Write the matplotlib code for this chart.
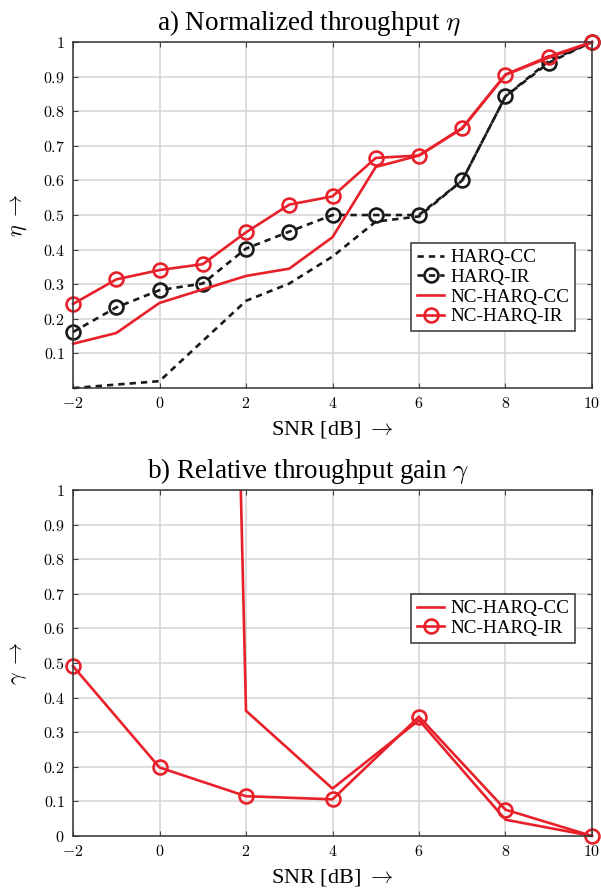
import numpy as np
import matplotlib.pyplot as plt

plt.rcParams['font.family'] = ['Liberation Serif', 'DejaVu Serif']
plt.rcParams['mathtext.fontset'] = 'cm'

# a) normalized throughput
snr = [-2, -1, 0, 1, 2, 3, 4, 5, 6, 7, 8, 9, 10]
harq_cc = [0.0, 0.01, 0.02, 0.136, 0.252, 0.302, 0.38, 0.481, 0.496, 0.60, 0.843, 0.945, 1.0]
harq_ir = [0.162, 0.233, 0.283, 0.302, 0.403, 0.452, 0.50, 0.50, 0.50, 0.60, 0.843, 0.94, 1.0]
nc_harq_cc = [0.128, 0.159, 0.246, 0.285, 0.324, 0.345, 0.436, 0.639, 0.672, 0.75, 0.905, 0.955, 1.0]
nc_harq_ir = [0.243, 0.314, 0.341, 0.358, 0.45, 0.530, 0.554, 0.665, 0.672, 0.752, 0.906, 0.958, 1.0]

# b) relative throughput gain
snr_b = [-2, 0, 2, 4, 6, 8, 10]
gain_cc = [np.nan, 11.0, 0.362, 0.137, 0.335, 0.047, 0.0]
gain_ir = [0.491, 0.198, 0.115, 0.106, 0.345, 0.076, 0.0]

xtick_vals = [-2, 0, 2, 4, 6, 8, 10]
xtick_lbls = ['$-2$', '$0$', '$2$', '$4$', '$6$', '$8$', '$10$']
ytick_vals_a = [0.1, 0.2, 0.3, 0.4, 0.5, 0.6, 0.7, 0.8, 0.9, 1.0]
ytick_lbls_a = ['$0.1$', '$0.2$', '$0.3$', '$0.4$', '$0.5$', '$0.6$', '$0.7$', '$0.8$', '$0.9$', '$1$']
ytick_vals_b = [0.0] + ytick_vals_a
ytick_lbls_b = ['$0$'] + ytick_lbls_a

red = '#e8202a'
blk = '#1a1a1a'

fig = plt.figure(figsize=(6.01, 8.88), dpi=100)
ax1 = fig.add_axes([0.1215, 0.563, 0.8635, 0.3897])
ax2 = fig.add_axes([0.1215, 0.0586, 0.8635, 0.3894])

lw = 1.9
mk = dict(marker='o', markersize=10, markerfacecolor='none', markeredgewidth=1.9)

ax1.plot(snr, harq_cc, '--', color=blk, lw=lw, dashes=(2.4, 1.9), label='HARQ-CC')
ax1.plot(snr, harq_ir, '--', color=blk, lw=lw, dashes=(2.4, 1.9), markeredgecolor=blk, label='HARQ-IR', **mk)
ax1.plot(snr, nc_harq_cc, '-', color=red, lw=lw, label='NC-HARQ-CC')
ax1.plot(snr, nc_harq_ir, '-', color=red, lw=lw, markeredgecolor=red, label='NC-HARQ-IR', **mk)

ax2.plot(snr_b, gain_cc, '-', color=red, lw=lw, label='NC-HARQ-CC')
ax2.plot(snr_b, gain_ir, '-', color=red, lw=lw, markeredgecolor=red, label='NC-HARQ-IR', **mk)

for ax in (ax1, ax2):
    ax.set_xlim(-2, 10)
    ax.set_ylim(0, 1)
    ax.set_xticks(xtick_vals)
    ax.set_xticklabels(xtick_lbls)
    ax.grid(True, color='#d4d4d4', lw=1.1)
    ax.set_axisbelow(True)
    ax.tick_params(direction='in', top=True, right=True, labelsize=11.5, color='#444444', pad=6)
    for s in ax.spines.values():
        s.set_color('#333333')
        s.set_linewidth(1.1)
    ax.set_xlabel('SNR [dB] $\\rightarrow$', fontsize=16, labelpad=5)
    for c in ax.get_lines():
        c.set_clip_on(False)

ax1.set_yticks(ytick_vals_a)
ax1.set_yticklabels(ytick_lbls_a)
ax2.set_yticks(ytick_vals_b)
ax2.set_yticklabels(ytick_lbls_b)
ax2.get_lines()[0].set_clip_on(True)

ax1.set_ylabel('$\\eta$ $\\rightarrow$', fontsize=16, labelpad=10)
ax2.set_ylabel('$\\gamma$ $\\rightarrow$', fontsize=16, labelpad=10)
ax1.set_title('a) Normalized throughput $\\eta$', fontsize=19.5, pad=9, x=0.454)
ax2.set_title('b) Relative throughput gain $\\gamma$', fontsize=19.5, pad=9, x=0.454)

leg_kw = dict(fontsize=13.8, fancybox=False, framealpha=1, edgecolor='#333333',
              handlelength=1.45, handletextpad=0.3, borderpad=0.3, labelspacing=0.12,
              borderaxespad=0)
l1 = ax1.legend(loc='upper left', bbox_to_anchor=(0.651, 0.419), **leg_kw)
l2 = ax2.legend(loc='upper left', bbox_to_anchor=(0.651, 0.699), **leg_kw)
for l in (l1, l2):
    l.get_frame().set_linewidth(1.1)

fig.savefig('out.png', dpi=100)
